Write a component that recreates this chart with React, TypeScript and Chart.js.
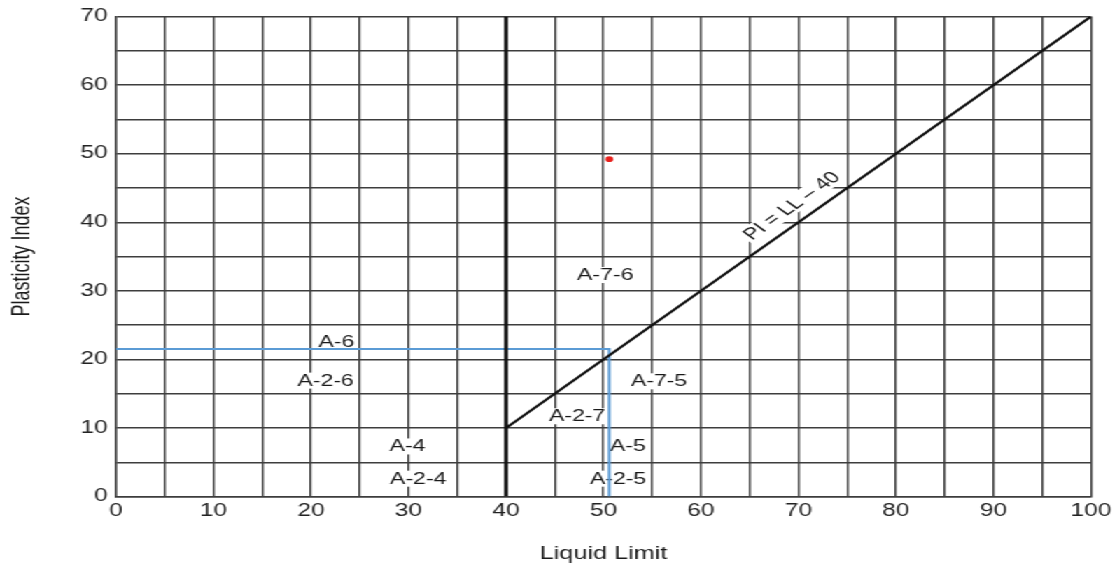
import React, { useEffect, useRef } from 'react';
import { Chart, registerables } from 'chart.js';

Chart.register(...registerables);

// ---- data ----
const xTickLabels = [0, 10, 20, 30, 40, 50, 60, 70, 80, 90, 100];
const yTickLabels = [0, 10, 20, 30, 40, 50, 60, 70];
const aLine = [
  { x: 40, y: 10 },
  { x: 100, y: 70 },
];
const llDivider = [
  { x: 40, y: 0 },
  { x: 40, y: 70 },
];
const sampleGuide = [
  { x: 0, y: 21.5 },
  { x: 50.6, y: 21.5 },
  { x: 50.6, y: 0 },
];
const samplePoint = [{ x: 50.6, y: 49.2 }];
const zoneNames = ['A-6', 'A-2-6', 'A-4', 'A-2-4', 'A-2-7', 'A-5', 'A-2-5', 'A-7-5', 'A-7-6'];
const zoneLL = [22.6, 21.5, 29.9, 31.0, 47.3, 52.5, 51.5, 55.7, 50.2];
const zonePI = [22.6, 16.9, 7.3, 2.6, 11.7, 7.3, 2.6, 16.8, 32.3];
const lineLabel = 'PI = LL – 40';
const lineLabelLL = 69.3;
const lineLabelPI = 42.4;

// ---- layout (internal canvas, stretched horizontally by CSS) ----
const W = 798;
const H = 567;
const SX = 1117 / W;
const FONT = '"Liberation Sans", Arial, Helvetica, sans-serif';

const labelPlugin = {
  id: 'zoneLabels',
  beforeDatasetsDraw(chart: any) {
    const { ctx, scales } = chart;
    const xs = scales.x;
    const ys = scales.y;
    ctx.save();
    ctx.font = `16.5px ${FONT}`;
    ctx.textAlign = 'center';
    ctx.textBaseline = 'middle';
    zoneNames.forEach((t, i) => {
      const px = xs.getPixelForValue(zoneLL[i]);
      const py = ys.getPixelForValue(zonePI[i]);
      const w = ctx.measureText(t).width + 2;
      ctx.fillStyle = '#ffffff';
      ctx.fillRect(px - w / 2, py - 8, w, 16);
      ctx.fillStyle = '#1a1a1a';
      ctx.fillText(t, px, py + 0.5);
    });
    const ang = Math.atan2(
      ys.getPixelForValue(70) - ys.getPixelForValue(10),
      xs.getPixelForValue(100) - xs.getPixelForValue(40)
    );
    const cx = xs.getPixelForValue(lineLabelLL);
    const cy = ys.getPixelForValue(lineLabelPI);
    ctx.translate(cx, cy);
    ctx.rotate(ang);
    const w = ctx.measureText(lineLabel).width + 4;
    ctx.fillStyle = '#ffffff';
    ctx.fillRect(-w / 2, -8, w, 16);
    ctx.fillStyle = '#1a1a1a';
    ctx.fillText(lineLabel, 0, 0.5);
    ctx.restore();
  },
};

export default function App() {
  const ref = useRef<HTMLCanvasElement | null>(null);

  useEffect(() => {
    if (!ref.current) return;
    const gridColor = '#3d3d3d';
    const chart = new Chart(ref.current, {
      type: 'scatter',
      data: {
        datasets: [
          {
            label: 'LL = 40',
            data: llDivider,
            showLine: true,
            borderColor: '#111111',
            borderWidth: 2.6,
            pointRadius: 0,
          },
          {
            label: 'PI = LL – 40',
            data: aLine,
            showLine: true,
            borderColor: '#111111',
            borderWidth: 2.2,
            pointRadius: 0,
          },
          {
            label: 'Guide',
            data: sampleGuide,
            showLine: true,
            borderColor: '#5b9bd5',
            borderWidth: 2,
            pointRadius: 0,
          },
          {
            label: 'Sample',
            data: samplePoint,
            pointRadius: 2.8,
            pointBackgroundColor: '#e8201c',
            pointBorderWidth: 0,
            borderWidth: 0,
          },
        ],
      },
      options: {
        responsive: false,
        animation: false,
        devicePixelRatio: 1,
        layout: { padding: { top: 14, right: W - 1091 / SX, left: 0, bottom: 0 } },
        plugins: {
          legend: { display: false },
          tooltip: { enabled: false },
        },
        scales: {
          x: {
            type: 'linear',
            min: 0,
            max: 100,
            afterFit: (s: any) => {
              s.height = H - 496.5;
            },
            ticks: {
              stepSize: 5,
              autoSkip: false,
              maxRotation: 0,
              padding: 4,
              color: '#222222',
              font: { family: FONT, size: 17.5 },
              callback: (v: any) => (xTickLabels.includes(Number(v)) ? String(v) : ''),
            },
            grid: { color: gridColor, lineWidth: 1.4, drawTicks: false },
            border: { display: true, color: gridColor, width: 1.4 },
            title: {
              display: true,
              text: 'Liquid Limit',
              color: '#1a1a1a',
              font: { family: FONT, size: 18 },
              padding: { top: 0, bottom: 2.5 },
            },
          },
          y: {
            type: 'linear',
            min: 0,
            max: 70,
            afterFit: (s: any) => {
              s.width = 116 / SX;
            },
            ticks: {
              stepSize: 5,
              autoSkip: false,
              padding: 6,
              color: '#222222',
              font: { family: FONT, size: 17.5 },
              callback: (v: any) => (yTickLabels.includes(Number(v)) ? String(v) : ''),
            },
            grid: { color: gridColor, lineWidth: 1.4, drawTicks: false },
            border: { display: true, color: gridColor, width: 1.4 },
            title: {
              display: true,
              text: 'Plasticity Index',
              color: '#1a1a1a',
              font: { family: FONT, size: 18 },
              padding: { top: 5, bottom: 0 },
            },
          },
        },
      },
      plugins: [labelPlugin],
    });
    return () => chart.destroy();
  }, []);

  return (
    <div
      style={{
        position: 'absolute',
        left: 0,
        top: 0,
        width: W,
        height: H,
        transform: `scaleX(${SX})`,
        transformOrigin: '0 0',
        background: '#ffffff',
      }}
    >
      <canvas ref={ref} width={W} height={H} style={{ display: 'block' }} />
    </div>
  );
}
